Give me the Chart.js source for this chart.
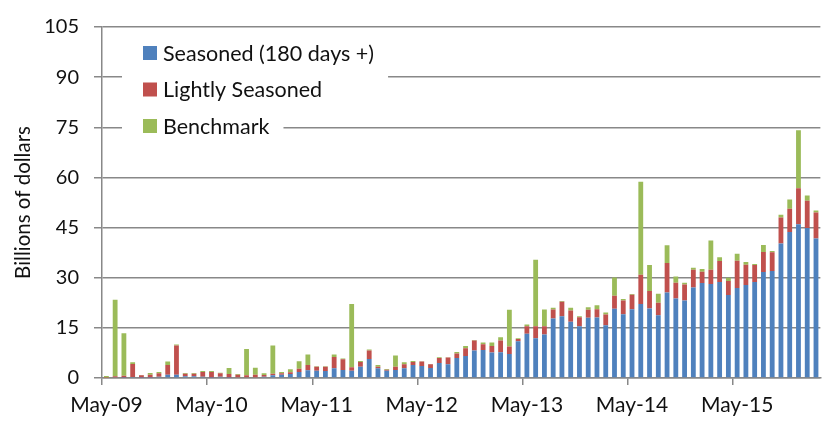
<!DOCTYPE html>
<html>
<head>
<meta charset="utf-8">
<script src="https://cdn.jsdelivr.net/npm/chart.js@4"></script>
<style>
  html, body { margin: 0; padding: 0; background: #fff; }
  #wrap { width: 824px; height: 424px; }
</style>
</head>
<body>
<div id="wrap"><canvas id="issuance-chart"></canvas></div>
<script>
// monthly, May-09 .. Feb-16
const months = [
  'May-09','Jun-09','Jul-09','Aug-09','Sep-09','Oct-09','Nov-09','Dec-09','Jan-10','Feb-10','Mar-10','Apr-10',
  'May-10','Jun-10','Jul-10','Aug-10','Sep-10','Oct-10','Nov-10','Dec-10','Jan-11','Feb-11','Mar-11','Apr-11',
  'May-11','Jun-11','Jul-11','Aug-11','Sep-11','Oct-11','Nov-11','Dec-11','Jan-12','Feb-12','Mar-12','Apr-12',
  'May-12','Jun-12','Jul-12','Aug-12','Sep-12','Oct-12','Nov-12','Dec-12','Jan-13','Feb-13','Mar-13','Apr-13',
  'May-13','Jun-13','Jul-13','Aug-13','Sep-13','Oct-13','Nov-13','Dec-13','Jan-14','Feb-14','Mar-14','Apr-14',
  'May-14','Jun-14','Jul-14','Aug-14','Sep-14','Oct-14','Nov-14','Dec-14','Jan-15','Feb-15','Mar-15','Apr-15',
  'May-15','Jun-15','Jul-15','Aug-15','Sep-15','Oct-15','Nov-15','Dec-15','Jan-16','Feb-16'
];

// billions of dollars
const seasoned = [
  0, 0, 0.1, 0.3, 0.1, 0.1, 0.4, 1.0, 1.0, 0.5, 0.5, 0.4,
  0.1, 0.4, 0.1, 0, 0, 0, 0.4, 0.8, 1.0, 1.2, 1.8, 2.3,
  2.2, 2.1, 2.9, 2.4, 2.2, 3.4, 5.7, 2.9, 2.2, 2.4, 2.9, 3.9,
  3.6, 3.0, 4.5, 4.1, 6.0, 6.6, 8.2, 8.4, 7.6, 7.7, 7.2, 11.0,
  13.2, 11.9, 13.0, 17.8, 18.5, 16.8, 15.5, 18.0, 18.1, 15.8, 20.7, 19.1,
  20.6, 22.1, 20.8, 18.8, 25.6, 23.8, 23.2, 27.1, 28.4, 28.1, 28.7, 24.8,
  26.9, 27.8, 28.7, 31.7, 32.0, 40.2, 43.7, 46.0, 44.9, 41.7
];
const lightly = [
  0.1, 0.5, 0.6, 3.9, 0.7, 0.9, 1.0, 2.9, 8.7, 0.8, 0.8, 1.4,
  1.7, 1.0, 1.1, 1.0, 0.8, 1.0, 0.5, 0.5, 0.4, 0.5, 1.0, 1.6,
  1.2, 1.3, 3.4, 3.2, 1.0, 1.4, 2.5, 0.5, 0.3, 1.0, 1.2, 0.9,
  1.3, 1.1, 1.5, 2.0, 1.3, 2.3, 3.0, 1.7, 2.0, 3.5, 2.2, 0.7,
  2.3, 3.6, 2.5, 2.7, 4.3, 3.4, 2.7, 2.4, 2.5, 3.2, 3.9, 4.1,
  4.3, 8.8, 5.2, 3.7, 8.8, 4.7, 4.8, 5.3, 3.4, 4.3, 6.3, 4.2,
  8.2, 6.1, 5.1, 6.0, 5.6, 7.8, 6.9, 10.8, 8.1, 7.8
];
const benchmark = [
  0.5, 22.9, 12.7, 0.5, 0.1, 0.5, 0.4, 1.0, 0.3, 0.2, 0.2, 0.3,
  0.3, 0.2, 1.8, 0.2, 7.9, 2.1, 0.5, 8.4, 0.4, 0.9, 2.2, 3.1,
  0.1, 0.1, 0.7, 0.2, 18.9, 0.3, 0.3, 0.5, 0.2, 3.3, 0.6, 0.3,
  0.1, 0.1, 0.2, 0.1, 0.5, 0.7, 0.2, 0.5, 1.0, 1.0, 11.0, 0.2,
  0.5, 19.9, 5.0, 0.5, 0.2, 0.8, 0.3, 0.8, 1.2, 0.6, 5.5, 0.4,
  0.2, 27.8, 7.8, 2.7, 5.3, 1.9, 0.5, 0.6, 0.8, 8.7, 1.1, 1.0,
  2.1, 0.8, 0.3, 2.1, 0.4, 0.8, 2.8, 17.3, 1.6, 0.6
];

const FONT = 'Lato';
const GRID = '#888888';

// legend drawn inside the plot, each row on a white box so the gridlines break behind it
const insideLegend = {
  id: 'insideLegend',
  afterDatasetsDraw(chart) {
    const ctx = chart.ctx;
    const area = chart.chartArea;
    const x0 = area.left + 20;
    const y0 = area.top + 26;
    const rowH = 36.5;
    const box = 14;
    ctx.save();
    ctx.font = '21.5px ' + FONT;
    ctx.textBaseline = 'middle';
    const sets = chart.data.datasets;
    sets.forEach((ds, i) => {
      const cy = y0 + i * rowH;
      const w = ctx.measureText(ds.label).width;
      ctx.fillStyle = '#fff';
      ctx.fillRect(x0, cy - 18, 41 + w + 14, 48);
    });
    sets.forEach((ds, i) => {
      const cy = y0 + i * rowH;
      ctx.fillStyle = ds.backgroundColor;
      ctx.fillRect(x0 + 21, cy - box / 2, box, box);
      ctx.fillStyle = '#111';
      ctx.fillText(ds.label, x0 + 41, cy + 1);
    });
    ctx.restore();
  }
};

const data = {
  labels: months,
  datasets: [
    { label: 'Seasoned (180 days +)', data: seasoned, backgroundColor: '#4F81BD' },
    { label: 'Lightly Seasoned', data: lightly, backgroundColor: '#C0504D' },
    { label: 'Benchmark', data: benchmark, backgroundColor: '#9BBB59' }
  ]
};

const config = {
  type: 'bar',
  data: data,
  options: {
    responsive: true,
    maintainAspectRatio: false,
    animation: false,
    datasets: { bar: { categoryPercentage: 1, barPercentage: 0.55, borderWidth: 0 } },
    layout: { padding: { top: 14, right: 2, left: 0, bottom: 0 } },
    plugins: {
      legend: { display: false },
      tooltip: { enabled: false }
    },
    scales: {
      x: {
        stacked: true,
        offset: true,
        afterFit(scale) { scale.height = 46; },
        grid: {
          offset: true,
          drawOnChartArea: false,
          drawTicks: true,
          tickLength: 7,
          lineWidth: 1.5,
          color: (c) => (c.index % 12 === 0 ? GRID : 'rgba(0,0,0,0)')
        },
        border: { display: true, color: GRID, width: 1.5 },
        ticks: {
          autoSkip: false,
          maxRotation: 0,
          padding: 8,
          color: '#111',
          font: { family: FONT, size: 21 },
          callback: function (v, i) {
            const l = this.getLabelForValue(v);
            return l.startsWith('May') ? l : '';
          }
        }
      },
      y: {
        stacked: true,
        min: 0,
        max: 105,
        afterFit(scale) { scale.width = 102; },
        grid: { color: GRID, lineWidth: 1.5, tickLength: 8 },
        border: { display: true, color: GRID, width: 1.5 },
        ticks: {
          stepSize: 15,
          padding: 15,
          color: '#111',
          font: { family: FONT, size: 20 }
        },
        title: {
          display: true,
          text: 'Billions of dollars',
          color: '#111',
          font: { family: FONT, size: 20.5 },
          padding: { top: 11, bottom: 0 }
        }
      }
    }
  },
  plugins: [insideLegend]
};

const issuanceChart = new Chart(document.getElementById('issuance-chart'), config);
</script>
</body>
</html>
